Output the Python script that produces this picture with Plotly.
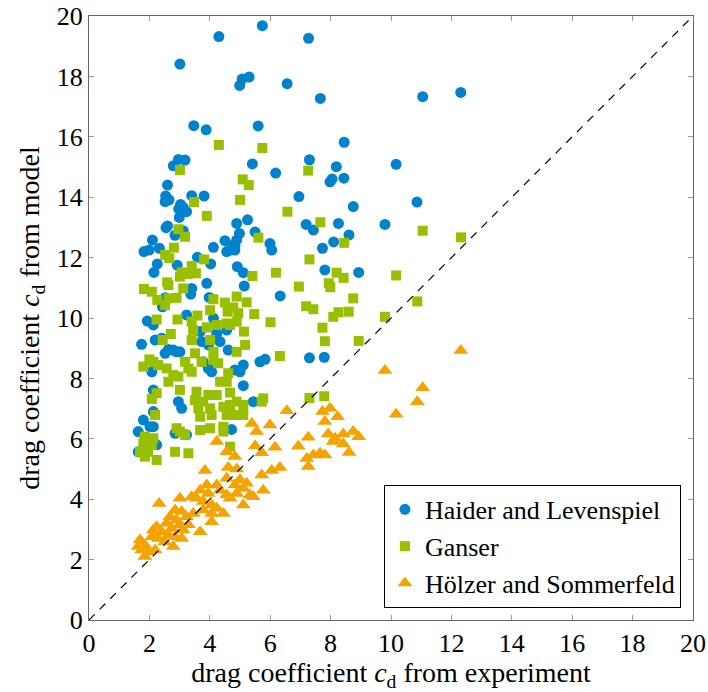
import plotly.graph_objects as go

hl_x = [5.74,4.30,3.01,5.30,5.07,4.99,6.56,3.47,3.88,5.60,2.96,3.18,2.79,5.41,6.18,
        7.27,7.66,11.05,12.31,8.45,7.30,8.19,10.17,
        7.98,8.05,8.44,6.95,8.75,10.86,7.19,7.43,8.26,9.80,8.61,8.10,7.73,7.81,8.93,
        7.30,7.79,
        2.60,2.54,2.65,2.52,3.40,3.81,3.03,2.97,3.23,3.12,2.99,4.89,5.25,2.60,2.55,3.12,4.98,4.89,4.78,4.50,
        5.50,5.99,6.05,2.10,1.82,1.99,2.33,2.85,4.12,4.56,4.83,4.67,4.83,3.59,4.03,2.26,2.92,2.15,4.91,5.11,
        3.40,3.37,3.90,5.14,6.33,2.43,2.52,3.98,3.23,4.12,1.93,
        2.13,3.68,4.23,4.56,1.74,2.19,2.41,3.73,3.95,4.34,4.61,2.52,2.90,3.01,2.63,2.79,2.08,3.78,3.95,4.06,
        4.83,5.11,5.00,5.11,2.13,2.96,3.07,5.44,2.13,1.80,1.63,2.02,2.13,2.85,3.23,4.72,2.24,1.63,5.66,5.83]
hl_y = [19.68,19.32,18.41,17.98,17.91,17.70,17.76,16.37,16.23,16.36,15.25,15.23,15.04,15.10,14.80,
        19.26,17.27,17.33,17.47,15.82,15.24,15.01,15.09,
        14.51,14.60,14.63,14.02,13.69,13.84,13.10,12.91,13.13,13.10,12.75,12.52,12.31,11.59,11.51,
        8.68,8.70,
        14.40,14.04,13.91,13.85,14.05,14.04,13.76,13.61,13.52,13.66,13.33,13.13,13.25,13.05,12.99,12.89,12.80,12.58,12.42,12.56,
        12.85,12.47,12.25,12.58,12.20,12.25,12.31,12.74,12.34,12.20,12.25,12.25,12.38,12.01,11.79,11.79,11.75,11.51,11.70,11.50,
        10.98,10.79,11.15,11.06,10.73,10.37,10.67,10.68,10.10,9.99,9.90,
        9.77,9.55,9.49,9.60,9.13,9.27,9.33,9.22,9.11,9.22,8.94,8.83,8.88,8.88,8.96,8.94,8.22,8.55,8.33,8.22,
        8.28,8.44,8.22,7.76,7.62,7.23,7.01,7.23,6.90,6.62,6.24,6.40,6.40,6.18,6.13,6.31,5.80,5.57,8.55,8.63]

ga_x = [4.30,5.74,3.01,
        7.26,7.66,8.45,11.05,12.32,7.30,8.20,8.43,10.17,6.95,7.94,7.99,8.75,10.87,7.19,7.43,8.26,8.09,8.60,9.80,
        7.73,7.81,8.93,7.30,7.79,
        5.09,5.29,3.48,5.00,3.90,6.57,2.96,3.18,5.61,2.81,2.52,2.66,3.81,3.07,3.40,3.54,3.01,3.27,5.41,6.19,
        2.59,2.63,1.82,2.08,3.12,2.26,2.63,2.90,2.52,4.12,4.01,4.50,4.89,5.22,4.78,4.94,4.59,5.47,3.59,2.24,2.93,6.01,
        3.40,3.45,3.90,4.23,4.56,4.89,4.67,5.13,2.44,2.71,3.40,4.01,4.12,4.89,5.17,2.00,1.80,2.13,2.29,2.57,
        2.79,2.96,2.63,3.01,3.18,3.51,3.73,3.40,3.29,4.12,4.28,4.61,4.34,4.56,4.67,2.24,2.08,3.56,3.51,3.95,
        4.23,3.78,3.62,3.68,4.01,4.06,4.45,4.67,4.89,5.11,4.56,4.83,5.11,5.77,5.72,2.19,2.90,3.01,3.18,3.68,
        4.01,4.45,4.45,1.85,2.13,1.80,2.08,1.69,1.96,2.24,1.85,2.85,3.29,4.67,6.32]
ga_y = [15.73,15.63,14.90,
        14.88,13.17,12.49,12.89,12.67,11.94,11.50,11.33,11.41,11.04,11.15,11.02,10.65,10.55,10.39,10.29,10.19,10.04,10.21,10.04,
        9.68,9.23,9.24,7.35,7.41,
        14.59,14.40,13.84,13.91,13.38,13.52,12.94,12.69,12.66,12.33,12.09,11.98,11.94,11.51,11.72,11.48,11.37,11.46,11.39,11.50,
        11.18,11.09,10.96,10.87,10.98,10.60,10.65,10.67,10.43,10.62,10.26,10.51,10.71,10.52,10.35,10.16,10.21,10.13,10.08,9.95,9.95,9.86,
        9.88,9.60,9.69,9.77,9.82,9.88,9.77,9.55,9.27,9.47,9.27,9.27,8.88,8.88,9.11,8.63,8.39,8.55,8.44,8.33,
        8.11,8.06,7.89,7.62,8.55,8.83,8.55,8.22,8.33,8.61,8.50,8.17,7.89,7.89,7.53,7.51,7.32,7.56,7.28,7.45,
        7.45,7.23,7.01,6.73,7.01,6.79,7.06,7.12,7.23,7.12,6.79,6.79,6.79,7.34,7.23,6.79,6.35,6.24,6.13,6.29,
        6.35,6.40,6.24,6.07,6.02,5.85,5.80,5.57,5.57,5.30,5.41,5.57,5.52,5.74,8.74]

hs_x = [12.31,9.80,11.05,10.87,10.17,7.73,7.98,8.23,7.81,7.26,7.92,8.15,8.42,8.75,8.93,8.09,8.42,8.61,6.93,
        7.21,7.43,7.65,7.81,7.26,
        6.55,5.39,5.99,5.55,4.23,5.50,6.16,5.72,4.56,4.83,4.61,4.89,6.32,6.05,3.84,
        4.56,5.00,5.22,4.83,5.11,4.89,4.67,5.33,5.11,5.72,5.77,5.44,2.32,3.01,3.40,3.68,3.90,4.23,4.34,4.56,
        3.95,3.56,3.78,4.06,4.23,3.78,3.45,4.06,4.45,4.06,3.68,3.29,
        2.85,3.07,3.23,2.68,2.90,3.01,2.57,2.74,3.12,2.40,2.63,2.85,3.07,2.24,2.13,2.08,2.29,2.51,2.79,1.69,
        1.85,1.74,1.96,2.19,1.85,1.63]
hs_y = [8.92,8.26,7.69,7.23,6.81,6.90,7.01,6.73,6.57,6.05,6.16,6.02,6.16,6.24,6.07,5.91,5.83,5.55,5.75,
        5.35,5.46,5.52,5.46,5.08,
        6.93,6.51,6.46,6.24,5.91,5.76,5.72,5.54,5.57,5.41,5.05,5.00,5.05,4.95,4.95,
        4.69,4.64,4.53,4.47,4.36,4.19,4.03,4.14,3.81,4.80,4.30,4.08,3.86,4.03,4.08,4.30,4.47,4.47,4.30,4.14,
        4.19,4.03,3.92,3.81,3.70,3.64,3.53,3.53,3.53,3.25,2.92,3.15,
        3.64,3.59,3.42,3.42,3.31,3.15,3.20,3.04,2.98,2.92,2.81,2.76,2.70,3.09,2.98,2.76,2.70,2.59,2.43,2.65,
        2.48,2.32,2.26,2.32,2.10,2.43]

diag = [0, 20]
ticks = [0, 2, 4, 6, 8, 10, 12, 14, 16, 18, 20]

FONT = "Liberation Serif, DejaVu Serif, serif"
fig = go.Figure()
fig.add_trace(go.Scatter(x=hl_x, y=hl_y, mode="markers", name="Haider and Levenspiel",
                         marker=dict(symbol="circle", size=11, color="#0083CC", line=dict(width=0))))
fig.add_trace(go.Scatter(x=ga_x, y=ga_y, mode="markers", name="Ganser",
                         marker=dict(symbol="square", size=10, color="#99C000", line=dict(width=0))))
fig.add_trace(go.Scatter(x=hs_x, y=hs_y, mode="markers", name="Hölzer and Sommerfeld",
                         marker=dict(symbol="triangle-up", size=13, color="#F5A300", line=dict(width=0))))
fig.add_trace(go.Scatter(x=diag, y=diag, mode="lines", showlegend=False,
                         line=dict(color="black", width=1.2, dash="8px,7px")))

axis_common = dict(range=[0, 20], tickvals=ticks, ticks="inside", ticklen=5, tickcolor="#999999",
                   showline=True, linecolor="#666666", linewidth=1, mirror="allticks",
                   showgrid=False, zeroline=False, automargin=False, ticklabeloverflow="allow",
                   tickfont=dict(family=FONT, size=26, color="black"))
fig.update_xaxes(**axis_common,
                 title=dict(text="drag coefficient <i>c</i><sub>d</sub> from experiment",
                            font=dict(family=FONT, size=28, color="black"), standoff=6))
fig.update_yaxes(**axis_common,
                 title=dict(text="drag coefficient <i>c</i><sub>d</sub> from model",
                            font=dict(family=FONT, size=28, color="black"), standoff=8))
fig.update_layout(width=708, height=692, margin=dict(l=89, r=15, t=16, b=72),
                  plot_bgcolor="white", paper_bgcolor="white",
                  legend=dict(x=0.98, y=0.02, xanchor="right", yanchor="bottom",
                              bgcolor="white", bordercolor="black", borderwidth=1,
                              font=dict(family=FONT, size=26, color="black"),
                              itemwidth=30, tracegroupgap=0))
fig.write_html("out.html", config={"displayModeBar": False},
               post_script="document.body.style.margin='0';document.body.style.overflow='hidden';")
